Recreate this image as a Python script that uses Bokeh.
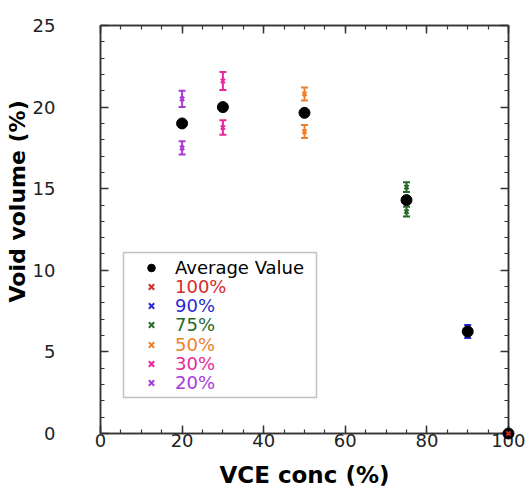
from bokeh.plotting import figure
from bokeh.models import (Range1d, LinearAxis, SingleIntervalTicker, Whisker, ColumnDataSource,
                          Legend, LegendItem, BoxAnnotation, Title, TeeHead, PrintfTickFormatter)
from bokeh.embed import file_html
from bokeh.resources import INLINE

# ---------------- data ----------------
conc_levels = [20, 30, 50, 75, 90, 100]
avg_void = [19.0, 20.0, 19.65, 14.3, 6.25, 0.0]

series_labels = ["100%", "90%", "75%", "50%", "30%", "20%"]
series_conc = [100, 90, 75, 50, 30, 20]
series_vals = [[0.0], [6.45, 6.05], [15.1, 13.6], [20.8, 18.5], [21.6, 18.75], [20.5, 17.5]]
series_err = [[0.0], [0.2, 0.2], [0.3, 0.3], [0.4, 0.4], [0.55, 0.45], [0.5, 0.4]]
series_colors = ["#d42a2a", "#2a2ad0", "#236b2a", "#ee7f2a", "#e8289a", "#a83ad8"]

x_label = "VCE conc (%)"
y_label = "Void volume (%)"

FONT = "DejaVu Sans"
AX = "#333333"

p = figure(width=525, height=491, x_range=Range1d(0, 100), y_range=Range1d(0, 25),
           output_backend="svg", toolbar_location=None,
           min_border_left=100, min_border_right=17, min_border_top=25, min_border_bottom=58)
p.xgrid.visible = False
p.ygrid.visible = False
p.outline_line_color = AX
p.outline_line_width = 1.5
p.background_fill_color = "white"
p.border_fill_color = "white"

bottom_ax = p.below[0]
left_ax = p.left[0]

bottom_ax.ticker = SingleIntervalTicker(interval=20, num_minor_ticks=4)
left_ax.ticker = SingleIntervalTicker(interval=5, num_minor_ticks=5)
bottom_ax.axis_label = x_label
bottom_ax.axis_label_text_font = FONT
bottom_ax.axis_label_text_font_size = "23px"
bottom_ax.axis_label_text_font_style = "bold"
bottom_ax.axis_label_text_color = "black"
bottom_ax.axis_label_standoff = 12
bottom_ax.major_label_standoff = 0
left_ax.major_label_standoff = 45

top_ax = LinearAxis(ticker=SingleIntervalTicker(interval=20, num_minor_ticks=4),
                    formatter=PrintfTickFormatter(format=""))
right_ax = LinearAxis(ticker=SingleIntervalTicker(interval=5, num_minor_ticks=5),
                      formatter=PrintfTickFormatter(format=""))
p.add_layout(top_ax, "above")
p.add_layout(right_ax, "right")

for ax in [bottom_ax, left_ax, top_ax, right_ax]:
    ax.major_tick_in = 8
    ax.major_tick_out = 0
    ax.minor_tick_in = 4
    ax.minor_tick_out = 0
    ax.axis_line_color = AX
    ax.axis_line_width = 1.5
    ax.major_tick_line_color = AX
    ax.minor_tick_line_color = AX
    ax.major_tick_line_width = 1.5
    ax.minor_tick_line_width = 1.2
    ax.major_label_text_font = FONT
    ax.major_label_text_font_size = "18px"
    ax.major_label_text_color = "#222222"

for ax in [top_ax, right_ax]:
    ax.major_label_standoff = 0

ytitle = Title(text=y_label, align="left", offset=131, text_font=FONT,
               text_font_size="22px", text_font_style="bold", text_color="black", standoff=0)
p.add_layout(ytitle, "left")

# ---------------- glyphs ----------------
def add_series(idx, level="glyph"):
    c = series_colors[idx]
    n = len(series_vals[idx])
    src = ColumnDataSource(dict(
        x=[series_conc[idx]] * n,
        y=series_vals[idx],
        upper=[v + e for v, e in zip(series_vals[idx], series_err[idx])],
        lower=[v - e for v, e in zip(series_vals[idx], series_err[idx])],
    ))
    w = Whisker(base="x", upper="upper", lower="lower", source=src, dimension="height",
                line_color=c, line_width=2,
                upper_head=TeeHead(size=7, line_color=c, line_width=2),
                lower_head=TeeHead(size=7, line_color=c, line_width=2))
    p.add_layout(w)
    r = p.scatter("x", "y", source=src, marker="x", size=6, line_color=c, line_width=2,
                  level=level)
    return r

series_r = {}
for i in range(1, len(series_labels)):
    series_r[i] = add_series(i)

avg_r = p.scatter(conc_levels, avg_void, marker="circle", size=11, fill_color="black",
                  line_color="black", level="overlay")
series_r[0] = add_series(0, level="overlay")

# ---------------- legend ----------------
rows = [("Average Value", avg_r, "black")] + \
       [(series_labels[i], series_r[i], series_colors[i]) for i in range(len(series_labels))]
row_bottoms = [155.5, 136, 117, 98, 78.5, 59.5, 40.5]
for (lab, r, col), yb in zip(rows, row_bottoms):
    lg = Legend(items=[LegendItem(label=lab, renderers=[r])], location=(41, yb),
                border_line_color=None, background_fill_alpha=0, padding=0, margin=0,
                spacing=0, glyph_width=20, glyph_height=19, label_height=19,
                label_standoff=14, label_text_font=FONT, label_text_font_size="18px",
                label_text_color=col)
    p.add_layout(lg)

box = BoxAnnotation(left=23, right=216, bottom=36, top=181,
                    left_units="screen", right_units="screen",
                    bottom_units="screen", top_units="screen",
                    fill_alpha=0, line_color=AX, line_width=1.5)
p.add_layout(box)

open("out.html", "w").write(file_html(p, INLINE))
